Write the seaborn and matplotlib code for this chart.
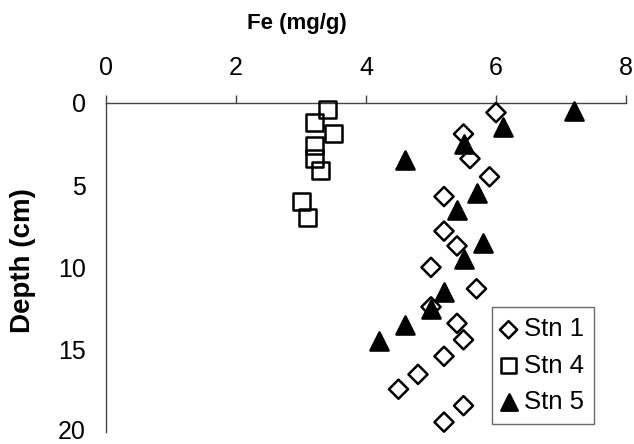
import matplotlib
matplotlib.use("Agg")
import matplotlib.pyplot as plt
import pandas as pd
import seaborn as sns

# Fe (mg/g) vs depth (cm)
stn1_fe = [6.0, 5.5, 5.6, 5.9, 5.2, 5.2, 5.4, 5.0, 5.7, 5.0, 5.4, 5.5, 5.2, 4.8, 4.5, 5.5, 5.2]
stn1_depth = [0.6, 1.9, 3.4, 4.5, 5.7, 7.8, 8.7, 10.0, 11.3, 12.4, 13.4, 14.4, 15.4, 16.5, 17.4, 18.4, 19.4]

stn4_fe = [3.4, 3.2, 3.5, 3.2, 3.2, 3.3, 3.0, 3.1]
stn4_depth = [0.4, 1.2, 1.9, 2.6, 3.4, 4.1, 6.0, 7.0]

stn5_fe = [7.2, 6.1, 5.5, 4.6, 5.7, 5.4, 5.8, 5.5, 5.2, 5.0, 4.6, 4.2]
stn5_depth = [0.5, 1.5, 2.5, 3.5, 5.5, 6.5, 8.5, 9.5, 11.5, 12.5, 13.5, 14.5]

x_ticks = [0, 2, 4, 6, 8]
y_ticks = [0, 5, 10, 15, 20]

sns.set_theme(style="white")
plt.rcParams["font.family"] = ["Liberation Sans", "DejaVu Sans"]
plt.rcParams["text.color"] = "black"
plt.rcParams["axes.labelcolor"] = "black"
plt.rcParams["xtick.color"] = "black"
plt.rcParams["ytick.color"] = "black"

fig = plt.figure(figsize=(6.34, 4.44), dpi=100)
ax = fig.add_axes([0.1672, 0.027, 0.8202, 0.7417])

series = [
    ("Stn 1", stn1_fe, stn1_depth, "D", "none", 95),
    ("Stn 4", stn4_fe, stn4_depth, "s", "none", 150),
    ("Stn 5", stn5_fe, stn5_depth, "^", "black", 170),
]
for name, fe, depth, mk, fc, size in series:
    df = pd.DataFrame({"Fe": fe, "Depth": depth})
    sns.scatterplot(
        data=df, x="Fe", y="Depth", ax=ax, marker=mk, s=size,
        facecolors=fc, edgecolor="black", linewidth=1.8,
        label=name, clip_on=False, zorder=3
    )

ax.set_xlim(0, 8)
ax.set_ylim(20, 0)
ax.set_xticks(x_ticks)
ax.set_yticks(y_ticks)
ax.xaxis.tick_top()
ax.xaxis.set_label_position("top")
ax.set_xlabel("Fe (mg/g)", fontsize=16, fontweight="bold")
ax.set_ylabel("Depth (cm)", fontsize=20, fontweight="bold")
ax.xaxis.set_label_coords(0.368, 1.224)
ax.yaxis.set_label_coords(-0.134, 0.52)
ax.tick_params(axis="both", labelsize=18, length=5.5, width=1, color="#444444",
               labelcolor="black", direction="out")
ax.tick_params(axis="x", pad=11)
ax.tick_params(axis="y", pad=9)
# keep the bottom "20" inside the figure edge
ax.get_yticklabels()[-1].set_va("center")

for side in ["bottom", "right"]:
    ax.spines[side].set_visible(False)
for side in ["top", "left"]:
    ax.spines[side].set_color("#444444")
    ax.spines[side].set_linewidth(1)

leg = ax.legend(loc="upper left", bbox_to_anchor=(0.742, 0.379), borderaxespad=0,
                fontsize=18.5, frameon=True, fancybox=False, edgecolor="#444444",
                handletextpad=0.35, handlelength=0.5, labelspacing=0.47,
                borderpad=0.4, markerscale=0.9)
leg.get_frame().set_linewidth(1)

fig.savefig("out.png", dpi=100)
